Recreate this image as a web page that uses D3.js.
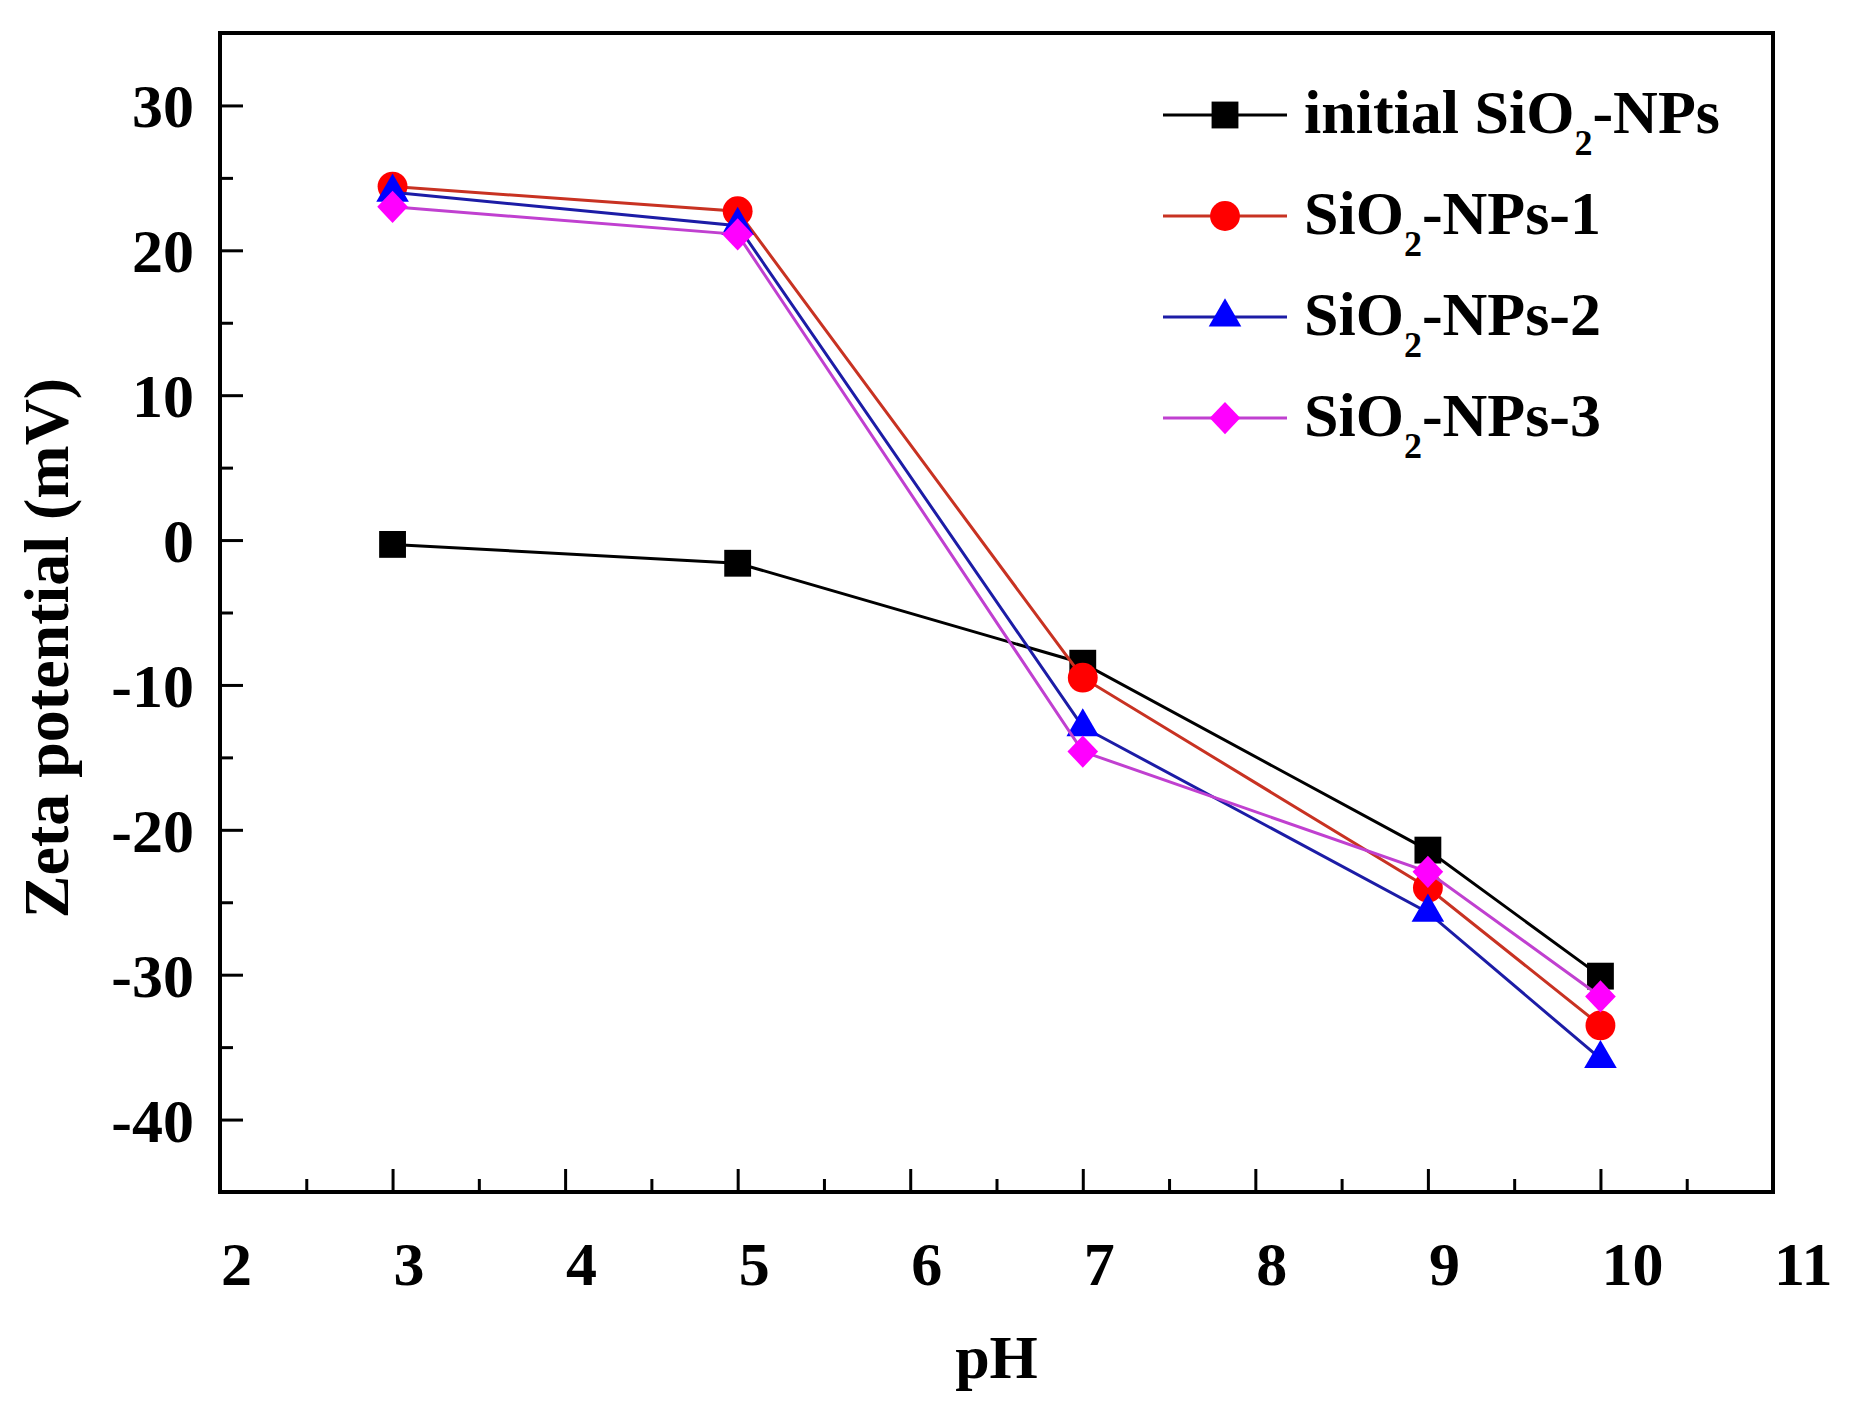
<!DOCTYPE html>
<html>
<head>
<meta charset="utf-8">
<script src="https://cdn.jsdelivr.net/npm/d3@7"></script>
<style>
	body { margin: 0; background: #fff; }
	text { font-family: "Liberation Serif", "Times New Roman", serif; font-weight: bold; fill: #000; }
</style>
</head>
<body>
<div id="chart"></div>
<script>
// data
var phValues = [3, 5, 7, 9, 10];
var initialNPs = [-0.3, -1.6, -8.5, -21.4, -30.1];
var nps1 = [24.4, 22.7, -9.5, -24.0, -33.5];
var nps2 = [24.0, 21.7, -12.9, -25.7, -35.8];
var nps3 = [23.0, 21.1, -14.6, -22.9, -31.5];
var seriesNames = ["initial SiO|2|-NPs", "SiO|2|-NPs-1", "SiO|2|-NPs-2", "SiO|2|-NPs-3"];
var xTicks = [2, 3, 4, 5, 6, 7, 8, 9, 10, 11];
var yTicks = [-40, -30, -20, -10, 0, 10, 20, 30];

var width = 1853,
	height = 1420,
	plotL = 220, plotR = 1773,
	plotT = 33, plotB = 1192;

var x = d3.scaleLinear().domain([2, 11]).range([plotL, plotR]);
var y = d3.scaleLinear().domain([-45, 35]).range([plotB, plotT]);

var svg = d3.select("#chart").append("svg")
	.attr("width", width)
	.attr("height", height);

// diamond a bit wider than d3's own
var diamond = {
	draw: function(ctx, size) {
		var r = Math.sqrt(size / 2);
		ctx.moveTo(0, -r);
		ctx.lineTo(r * 0.95, 0);
		ctx.lineTo(0, r);
		ctx.lineTo(-r * 0.95, 0);
		ctx.closePath();
	}
};

var series = [
	{ name: seriesNames[0], values: initialNPs, line: "#000000", fill: "#000000", symbol: d3.symbolSquare, size: 720, lw: 3 },
	{ name: seriesNames[1], values: nps1, line: "#c83222", fill: "#ff0000", symbol: d3.symbolCircle, size: 700, lw: 3 },
	{ name: seriesNames[2], values: nps2, line: "#1c1ca6", fill: "#0000ff", symbol: d3.symbolTriangle, size: 460, lw: 3 },
	{ name: seriesNames[3], values: nps3, line: "#c040d0", fill: "#ff00ff", symbol: diamond, size: 520, lw: 3 }
];

// axes: ticks inside, labels drawn by hand below
var xAxis = d3.axisBottom(x).tickValues(xTicks).tickSizeInner(-23).tickSizeOuter(0).tickFormat("");
var xMinor = d3.axisBottom(x).tickValues(d3.range(2.5, 11, 1)).tickSizeInner(-13).tickSizeOuter(0).tickFormat("");
var yAxis = d3.axisLeft(y).tickValues(yTicks).tickSizeInner(-23).tickSizeOuter(0).tickFormat("");
var yMinor = d3.axisLeft(y).tickValues(d3.range(-45, 35, 10)).tickSizeInner(-13).tickSizeOuter(0).tickFormat("");

[[xAxis, "translate(0," + plotB + ")"], [xMinor, "translate(0," + plotB + ")"],
 [yAxis, "translate(" + plotL + ",0)"], [yMinor, "translate(" + plotL + ",0)"]].forEach(function(a) {
	var g = svg.append("g").attr("transform", a[1]).call(a[0]);
	g.select(".domain").remove();
	g.selectAll("line").attr("stroke", "#000").attr("stroke-width", 3);
});

// frame
svg.append("rect")
	.attr("x", plotL).attr("y", plotT)
	.attr("width", plotR - plotL).attr("height", plotB - plotT)
	.attr("fill", "none").attr("stroke", "#000").attr("stroke-width", 4);

// tick labels
svg.append("g").selectAll("text")
	.data(xTicks)
	.join("text")
	.attr("x", function(d) { return x(d) + 1; })
	.attr("y", 1285)
	.attr("font-size", 62)
	.text(function(d) { return d; });

svg.append("g").selectAll("text")
	.data(yTicks)
	.join("text")
	.attr("x", 194)
	.attr("y", function(d) { return y(d) + 22; })
	.attr("text-anchor", "end")
	.attr("font-size", 62)
	.text(function(d) { return d; });

// axis titles
svg.append("text")
	.attr("x", (plotL + plotR) / 2)
	.attr("y", 1378)
	.attr("text-anchor", "middle")
	.attr("font-size", 62)
	.text("pH");

svg.append("text")
	.attr("transform", "translate(68,648) rotate(-90)")
	.attr("text-anchor", "middle")
	.attr("font-size", 64)
	.text("Zeta potential (mV)");

// lines and markers
var line = d3.line()
	.x(function(d, i) { return x(phValues[i]); })
	.y(function(d) { return y(d); });

series.forEach(function(s) {
	svg.append("path")
		.datum(s.values)
		.attr("d", line)
		.attr("fill", "none")
		.attr("stroke", s.line)
		.attr("stroke-width", s.lw);
	svg.append("g").selectAll("path")
		.data(s.values)
		.join("path")
		.attr("transform", function(d, i) { return "translate(" + x(phValues[i]) + "," + y(d) + ")"; })
		.attr("d", d3.symbol().type(s.symbol).size(s.size))
		.attr("fill", s.fill);
});

// legend
var legend = svg.append("g");
series.forEach(function(s, i) {
	var by = 133 + i * 101,
		ly = by - 18,
		parts = s.name.split("|");
	legend.append("line")
		.attr("x1", 1163).attr("x2", 1287)
		.attr("y1", ly).attr("y2", ly)
		.attr("stroke", s.line)
		.attr("stroke-width", 3);
	legend.append("path")
		.attr("transform", "translate(1225," + ly + ")")
		.attr("d", d3.symbol().type(s.symbol).size(s.size))
		.attr("fill", s.fill);
	var t = legend.append("text")
		.attr("x", 1304)
		.attr("y", by)
		.attr("font-size", 62);
	t.append("tspan").text(parts[0]);
	t.append("tspan").attr("font-size", 36).attr("dy", 22).text(parts[1]);
	t.append("tspan").attr("dy", -22).text(parts[2]);
});
</script>
</body>
</html>
